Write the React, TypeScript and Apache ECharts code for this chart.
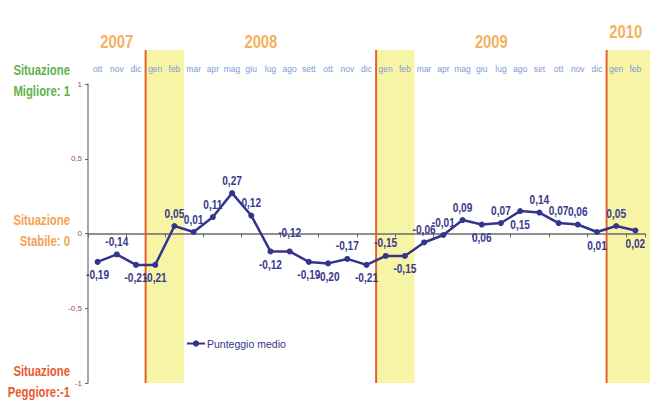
import React, { useEffect, useRef } from "react";
import * as echarts from "echarts";

// Monthly survey: Oct 2007 – Feb 2010
const months = [
  "ott", "nov", "dic",
  "gen", "feb", "mar", "apr", "mag", "giu", "lug", "ago", "sett", "ott", "nov", "dic",
  "gen", "feb", "mar", "apr", "mag", "giu", "lug", "ago", "set", "ott", "nov", "dic",
  "gen", "feb",
];
const scores = [
  -0.19, -0.14, -0.21,
  -0.21, 0.05, 0.01, 0.11, 0.27, 0.12, -0.12, -0.12, -0.19, -0.2, -0.17, -0.21,
  -0.15, -0.15, -0.06, -0.01, 0.09, 0.06, 0.07, 0.15, 0.14, 0.07, 0.06, 0.01,
  0.05, 0.02,
];
// which side of each point its value is written on
const labelSides = [
  "below", "above", "below",
  "below", "above", "above", "above", "above", "above", "below", "above", "below", "below", "above", "below",
  "above", "below", "above", "above", "above", "below", "above", "below", "above", "above", "above", "below",
  "above", "below",
];
const years = ["2007", "2008", "2009", "2010"];
const yearSpans = [[0, 2], [3, 14], [15, 26], [27, 28]];
const winterSpans = [[3, 4], [15, 16], [27, 28]];
const yTicks = { min: -1, max: 1, interval: 0.5 };
const seriesName = "Punteggio medio";

const SANS = "'Liberation Sans', Arial, sans-serif";
const NAVY = "#34348c";

const fmt = (v: number) => String(v).replace(".", ",");
const fmt2 = (v: number) => v.toFixed(2).replace(".", ",");

export default function App() {
  const ref = useRef<HTMLDivElement>(null);

  useEffect(() => {
    document.body.style.margin = "0";
    if (!ref.current) return;
    const chart = echarts.init(ref.current, undefined, { renderer: "svg" });

    chart.setOption({
      animation: false,
      backgroundColor: "#ffffff",
      grid: { left: 88, right: 5, top: 84, bottom: 22 },
      legend: {
        data: [seriesName],
        left: 181,
        top: 333,
        itemWidth: 18,
        itemHeight: 8,
        itemGap: 4,
        textStyle: { color: NAVY, fontSize: 10.5, fontFamily: SANS, padding: [0, 0, 0, -3] },
      },
      xAxis: [
        {
          type: "category",
          data: months,
          boundaryGap: true,
          axisLine: { onZero: true, lineStyle: { color: "#6b6b6b", width: 1.5 } },
          axisTick: { show: true, length: 4, lineStyle: { color: "#6b6b6b" } },
          axisLabel: { show: false },
        },
        {
          type: "category",
          data: months,
          position: "top",
          boundaryGap: true,
          axisLine: { show: false, onZero: false },
          axisTick: { show: false },
          axisLabel: {
            interval: 0,
            margin: 11,
            color: "#7d9bd6",
            fontSize: 8.5,
            fontFamily: SANS,
          },
        },
      ],
      yAxis: {
        type: "value",
        min: yTicks.min,
        max: yTicks.max,
        interval: yTicks.interval,
        splitLine: { show: false },
        axisLine: { show: true, lineStyle: { color: "#8a8a8a", width: 1.5 } },
        axisTick: { show: true, length: 3, lineStyle: { color: "#666" } },
        axisLabel: {
          color: "#a2457a",
          fontSize: 8,
          fontFamily: SANS,
          margin: 6,
          formatter: (v: number) => fmt(v),
        },
      },
      series: [
        {
          name: seriesName,
          type: "line",
          xAxisIndex: 0,
          data: scores,
          symbol: "circle",
          symbolSize: 6,
          itemStyle: { color: NAVY },
          lineStyle: { color: NAVY, width: 2.5 },
          z: 5,
        },
        {
          // value labels in a condensed bold face, placed with the axes' scales
          name: "valori",
          type: "custom",
          xAxisIndex: 0,
          data: scores.map((v, i) => [i, v]),
          encode: { x: 0, y: 1 },
          z: 6,
          silent: true,
          renderItem: (params: any, api: any) => {
            const v = api.value(1);
            const p = api.coord([api.value(0), v]);
            const above = labelSides[params.dataIndex] === "above";
            // the August 2008 value sits a little higher, clear of its neighbour
            const extra = params.dataIndex === 10 ? 6 : 0;
            return {
              type: "text",
              x: p[0],
              y: p[1] + (above ? -6 - extra : 6),
              scaleX: 0.75,
              style: {
                text: fmt2(v),
                fill: "#3a3a8e",
                font: `bold 13.5px ${SANS}`,
                align: "center",
                verticalAlign: above ? "bottom" : "top",
              },
            };
          },
        },
      ],
    });

    // Bands for January–February and year headings, placed with the axes' own scales
    const px = (i: number) => chart.convertToPixel({ xAxisIndex: 0 }, i) as number;
    const half = (px(1) - px(0)) / 2;
    const yBottom = chart.convertToPixel({ yAxisIndex: 0 }, yTicks.min) as number;
    const bandTop = 50;
    const width = chart.getWidth();

    const graphics: any[] = [];
    winterSpans.forEach(([a, b], k) => {
      const x0 = px(a) - half;
      const x1 = k === winterSpans.length - 1 ? width : px(b) + half;
      graphics.push({
        type: "rect",
        z: -10,
        shape: { x: x0, y: bandTop, width: x1 - x0, height: yBottom - bandTop },
        style: { fill: "#f8f4a6" },
      });
      graphics.push({
        type: "line",
        z: 1,
        shape: { x1: x0, y1: bandTop, x2: x0, y2: yBottom },
        style: { stroke: "#e2622a", lineWidth: 2 },
      });
    });
    years.forEach((yr, k) => {
      const [a, b] = yearSpans[k];
      graphics.push({
        type: "text",
        z: 3,
        x: (px(a) + px(b)) / 2,
        y: k === years.length - 1 ? 32 : 42,
        scaleX: 0.78,
        style: {
          text: yr,
          fill: "#f4b260",
          font: `bold 19px ${SANS}`,
          align: "center",
          verticalAlign: "middle",
        },
      });
    });

    const sideLabels = [
      { t: "Situazione", y: 70, c: "#5fb24a" },
      { t: "Migliore: 1", y: 91, c: "#5fb24a" },
      { t: "Situazione", y: 220, c: "#f2a353" },
      { t: "Stabile: 0", y: 241, c: "#f2a353" },
      { t: "Situazione", y: 371, c: "#ea5a32" },
      { t: "Peggiore:-1", y: 392, c: "#ea5a32" },
    ];
    sideLabels.forEach((s) => {
      graphics.push({
        type: "text",
        x: 70,
        y: s.y,
        scaleX: 0.81,
        style: {
          text: s.t,
          fill: s.c,
          font: `bold 14px ${SANS}`,
          align: "right",
          verticalAlign: "middle",
        },
      });
    });

    chart.setOption({ graphic: graphics });

    return () => chart.dispose();
  }, []);

  return <div ref={ref} style={{ width: 650, height: 405 }} />;
}
